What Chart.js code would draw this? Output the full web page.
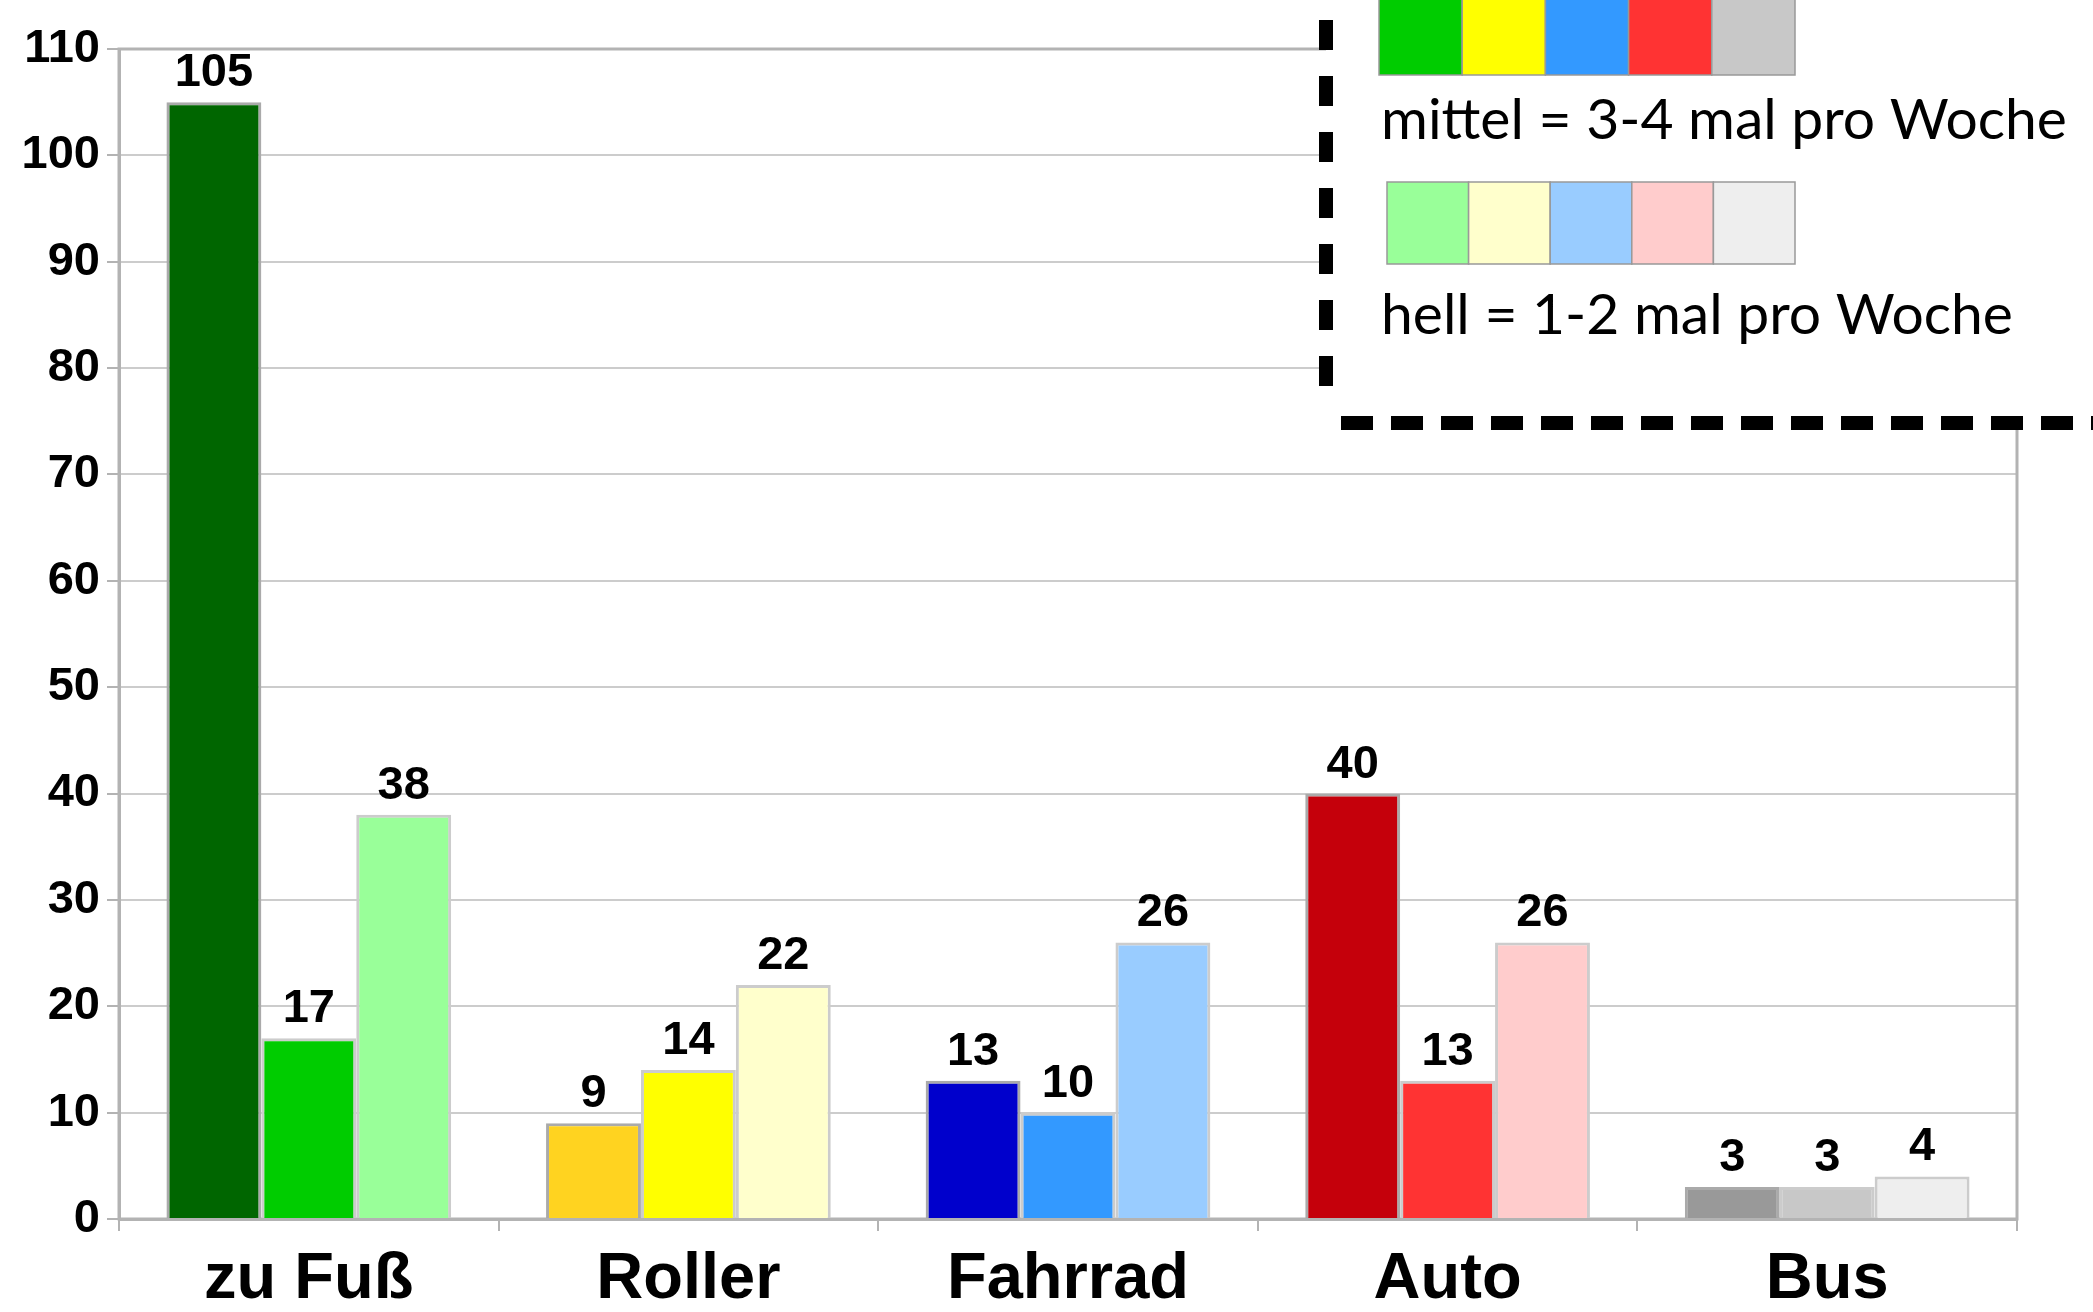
<!DOCTYPE html>
<html>
<head>
<meta charset="utf-8">
<script src="https://cdn.jsdelivr.net/npm/chart.js@4"></script>
<style>
  html, body { margin: 0; padding: 0; background: #ffffff; }
  #wrap { width: 2093px; height: 1312px; }
</style>
</head>
<body>
<div id="wrap"><canvas id="verkehrChart" width="2093" height="1312"></canvas></div>
<script>
// Daten
const categories = ['zu Fuß', 'Roller', 'Fahrrad', 'Auto', 'Bus'];
const dunkelValues = [105, 9, 13, 40, 3];
const mittelValues = [17, 14, 10, 13, 3];
const hellValues = [38, 22, 26, 26, 4];

const dunkelColors = ['#006600', '#ffd320', '#0000cc', '#c5000b', '#999999'];
const mittelColors = ['#00cc00', '#ffff00', '#3399ff', '#ff3333', '#c8c8c8'];
const hellColors = ['#99ff99', '#ffffcc', '#99ccff', '#ffcccc', '#eeeeee'];

const yMin = 0;
const yMax = 110;
const yStep = 10;

const legendLabels = ['mittel = 3-4 mal pro Woche', 'hell = 1-2 mal pro Woche'];

const axisGray = '#b3b3b3';
const gridGray = '#cccccc';

// Werte ueber den Balken
const valueLabels = {
    id: 'valueLabels',
    afterDatasetsDraw(chart) {
        const ctx = chart.ctx;
        ctx.save();
        ctx.fillStyle = '#000000';
        ctx.font = 'bold 47px "Liberation Sans", Arial, sans-serif';
        ctx.textAlign = 'center';
        ctx.textBaseline = 'alphabetic';
        chart.data.datasets.forEach((ds, i) => {
            const meta = chart.getDatasetMeta(i);
            meta.data.forEach((bar, j) => {
                ctx.fillText(String(ds.data[j]), bar.x, bar.y - 16);
            });
        });
        ctx.restore();
    }
};

// Rahmen um die Zeichenflaeche
const plotFrame = {
    id: 'plotFrame',
    beforeDatasetsDraw(chart) {
        const a = chart.chartArea;
        const ctx = chart.ctx;
        ctx.save();
        ctx.strokeStyle = axisGray;
        ctx.lineWidth = 3;
        ctx.strokeRect(a.left, a.top, a.right - a.left, a.bottom - a.top);
        ctx.restore();
    }
};

// Legende oben rechts (gestrichelter Kasten)
const boxLegend = {
    id: 'boxLegend',
    afterDraw(chart) {
        const ctx = chart.ctx;
        const boxLeft = 1326;
        const boxBottom = 423;
        ctx.save();
        ctx.fillStyle = '#ffffff';
        ctx.fillRect(boxLeft, 0, chart.width - boxLeft, boxBottom);

        ctx.strokeStyle = '#000000';
        ctx.lineWidth = 14;
        ctx.setLineDash([30, 26]);
        ctx.beginPath();
        ctx.moveTo(boxLeft, 20);
        ctx.lineTo(boxLeft, 400);
        ctx.stroke();
        ctx.setLineDash([32, 18]);
        ctx.beginPath();
        ctx.moveTo(boxLeft + 15, boxBottom);
        ctx.lineTo(chart.width, boxBottom);
        ctx.stroke();
        ctx.setLineDash([]);

        const rows = [
            { colors: mittelColors, x: 1379, y: -10, h: 85, text: legendLabels[0], baseline: 139 },
            { colors: hellColors, x: 1387, y: 182, h: 82, text: legendLabels[1], baseline: 334 }
        ];
        rows.forEach(r => {
            const w = (1795 - r.x) / r.colors.length;
            r.colors.forEach((c, k) => {
                ctx.fillStyle = c;
                ctx.fillRect(r.x + k * w, r.y, w, r.h);
                ctx.strokeStyle = '#999999';
                ctx.lineWidth = 1.5;
                ctx.strokeRect(r.x + k * w, r.y, w, r.h);
            });
            ctx.fillStyle = '#000000';
            ctx.textAlign = 'left';
            ctx.textBaseline = 'alphabetic';
            ctx.font = '400 57px Lato, "DejaVu Sans", sans-serif';
            ctx.fillText(r.text, 1381, r.baseline);
        });
        ctx.restore();
    }
};

const ctx = document.getElementById('verkehrChart').getContext('2d');
new Chart(ctx, {
    type: 'bar',
    data: {
        labels: categories,
        datasets: [
            {
                label: 'dunkel',
                data: dunkelValues,
                backgroundColor: dunkelColors,
                borderColor: '#aaaaaa',
                borderWidth: 3
            },
            {
                label: 'mittel',
                data: mittelValues,
                backgroundColor: mittelColors,
                borderColor: '#cccccc',
                borderWidth: 3
            },
            {
                label: 'hell',
                data: hellValues,
                backgroundColor: hellColors,
                borderColor: '#cccccc',
                borderWidth: 3
            }
        ]
    },
    options: {
        responsive: false,
        devicePixelRatio: 1,
        animation: false,
        categoryPercentage: 0.75,
        barPercentage: 1.0,
        layout: {
            padding: { top: 49, right: 76, left: 0, bottom: 0 }
        },
        plugins: {
            legend: { display: false },
            tooltip: { enabled: false }
        },
        scales: {
            x: {
                afterFit: function(scale) { scale.height = 93; },
                grid: {
                    display: true,
                    drawOnChartArea: false,
                    color: axisGray,
                    lineWidth: 2,
                    tickLength: 12
                },
                border: { display: true, color: axisGray, width: 3 },
                ticks: {
                    color: '#000000',
                    padding: 10,
                    font: { family: '"Liberation Sans", Arial, sans-serif', size: 65, weight: 'bold' }
                }
            },
            y: {
                min: yMin,
                max: yMax,
                afterFit: function(scale) { scale.width = 119; },
                grid: {
                    color: gridGray,
                    lineWidth: 2,
                    tickLength: 12,
                    tickColor: axisGray
                },
                border: { display: true, color: axisGray, width: 3 },
                ticks: {
                    stepSize: yStep,
                    color: '#000000',
                    padding: 7,
                    font: { family: '"Liberation Sans", Arial, sans-serif', size: 47, weight: 'bold' }
                }
            }
        }
    },
    plugins: [plotFrame, valueLabels, boxLegend]
});
</script>
</body>
</html>
